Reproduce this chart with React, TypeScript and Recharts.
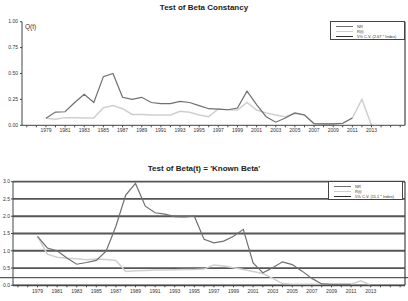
import React from 'react';
import { LineChart, Line, XAxis, YAxis, CartesianGrid, ReferenceLine } from 'recharts';

const years = [
  1979, 1980, 1981, 1982, 1983, 1984, 1985, 1986, 1987, 1988, 1989, 1990,
  1991, 1992, 1993, 1994, 1995, 1996, 1997, 1998, 1999, 2000, 2001, 2002,
  2003, 2004, 2005, 2006, 2007, 2008, 2009, 2010, 2011, 2012, 2013,
];

// Test of Beta Constancy, Q(t)
const constancyNR = [
  0.067, 0.128, 0.131, 0.22, 0.3, 0.22, 0.47, 0.5, 0.27, 0.25, 0.27, 0.22,
  0.21, 0.21, 0.23, 0.22, 0.19, 0.16, 0.157, 0.15, 0.167, 0.33, 0.2, 0.083,
  0.03, 0.07, 0.12, 0.1, 0.016, 0.013, 0.013, 0.02, 0.07, null, null,
];
const constancyR = [
  0.067, 0.058, 0.074, 0.074, 0.07, 0.07, 0.17, 0.19, 0.16, 0.105, 0.105, 0.1,
  0.1, 0.1, 0.135, 0.125, 0.1, 0.083, 0.157, 0.15, 0.147, 0.22, 0.147, 0.12,
  0.1, 0.083, 0.115, 0.1, 0.016, 0.013, 0.013, 0.02, 0.07, 0.25, 0,
];

// Test of Beta(t) = 'Known Beta'
const knownNR = [
  1.42, 1.08, 1.0, 0.79, 0.61, 0.66, 0.72, 0.99, 1.71, 2.61, 2.95, 2.29,
  2.1, 2.06, 1.99, 1.98, 2.0, 1.33, 1.23, 1.28, 1.42, 1.62, 0.65, 0.36,
  0.51, 0.68, 0.6, 0.41, 0.2, 0.04, 0.03, 0.03, 0.03, null, null,
];
const knownR = [
  1.42, 0.9, 0.81, 0.78, 0.77, 0.74, 0.76, 0.75, 0.72, 0.4, 0.42, 0.43,
  0.44, 0.44, 0.45, 0.46, 0.46, 0.47, 0.59, 0.56, 0.51, 0.46, 0.4, 0.34,
  0.2, 0.05, 0.03, 0.03, 0.03, 0.03, 0.03, 0.03, 0.03, 0.13, 0,
];
const knownCV = [0.22];

const legendTop = ['NR', 'R(t)', '5% C.V. (2.67 * Index)'];
const legendBottom = ['NR', 'R(t)', '5% C.V. (11.1 * Index)'];

const xTicks = [
  1977, 1978, 1979, 1980, 1981, 1982, 1983, 1984, 1985, 1986, 1987, 1988,
  1989, 1990, 1991, 1992, 1993, 1994, 1995, 1996, 1997, 1998, 1999, 2000,
  2001, 2002, 2003, 2004, 2005, 2006, 2007, 2008, 2009, 2010, 2011, 2012,
  2013, 2014, 2015, 2016,
];
const labelYears = [
  1979, 1981, 1983, 1985, 1987, 1989, 1991, 1993, 1995, 1997, 1999, 2001,
  2003, 2005, 2007, 2009, 2011, 2013,
];
const topTicks = [0, 0.25, 0.5, 0.75, 1];
const bottomTicks = [0, 0.5, 1, 1.5, 2, 2.5, 3];

const topData = years.map((year, i) => ({ year, nr: constancyNR[i], r: constancyR[i] }));
const bottomData = years.map((year, i) => ({ year, nr: knownNR[i], r: knownR[i] }));

const FONT = 'Arial, "Liberation Sans", sans-serif';
const DARK = '#6f6f6f';
const LIGHT = '#cfcfcf';
const DOMAIN: [number, number] = [1976.5, 2016.5];

const fmtYear = (v: number) => (labelYears.includes(v) ? String(v) : '');

const LegendBox = ({ names, left, top }: { names: string[]; left: number; top: number }) => {
  const colors = [DARK, LIGHT, '#333'];
  return (
    <div
      style={{
        position: 'absolute',
        left,
        top,
        width: 75,
        height: 19,
        border: '1.5px solid #444',
        boxSizing: 'border-box',
        background: '#fff',
        fontFamily: FONT,
        fontSize: 4,
        lineHeight: '5px',
        color: '#333',
      }}
    >
      {names.map((n, i) => (
        <div
          key={n}
          style={{ position: 'absolute', left: 5, top: 1.5 + i * 5, height: 5, display: 'flex', alignItems: 'center' }}
        >
          <div style={{ width: 17, height: 1, background: colors[i], marginRight: 4 }} />
          <span style={{ whiteSpace: 'nowrap' }}>{n}</span>
        </div>
      ))}
    </div>
  );
};

const titleStyle: React.CSSProperties = {
  position: 'absolute',
  left: 0,
  width: 408,
  textAlign: 'center',
  fontFamily: FONT,
  fontWeight: 'bold',
  fontSize: 8,
  color: '#222',
};

export default function App() {
  return (
    <div style={{ position: 'absolute', left: 0, top: 0, width: 408, height: 301, background: '#fff', overflow: 'hidden' }}>
      <div style={{ ...titleStyle, top: 3 }}>Test of Beta Constancy</div>
      <div style={{ position: 'absolute', left: 0, top: 0 }}>
        <LineChart width={408} height={140} data={topData} margin={{ top: 21.7, right: 3, bottom: 0, left: 0 }}>
          <XAxis
            dataKey="year"
            type="number"
            domain={DOMAIN}
            ticks={xTicks}
            tickFormatter={fmtYear}
            interval={0}
            height={14.7}
            tickSize={2}
            tickMargin={1}
            stroke="#444"
            tick={{ fontSize: 5, fill: '#333', fontFamily: FONT }}
          />
          <YAxis
            domain={[0, 1]}
            ticks={topTicks}
            interval={0}
            tickFormatter={(v: number) => v.toFixed(2)}
            width={22}
            tickSize={2}
            tickMargin={2}
            stroke="#444"
            tick={{ fontSize: 5, fill: '#333', fontFamily: FONT }}
          />
          <ReferenceLine x={DOMAIN[1]} stroke="#444" strokeWidth={1.2} />
          <Line dataKey="r" stroke={LIGHT} strokeWidth={1.5} dot={false} isAnimationActive={false} />
          <Line dataKey="nr" stroke={DARK} strokeWidth={1.2} dot={false} isAnimationActive={false} />
        </LineChart>
      </div>
      <div style={{ position: 'absolute', left: 25, top: 23, fontFamily: FONT, fontSize: 6.5, color: '#333' }}>Q(t)</div>
      <LegendBox names={legendTop} left={330} top={21} />

      <div style={{ ...titleStyle, top: 164 }}>Test of Beta(t) = 'Known Beta'</div>
      <div style={{ position: 'absolute', left: 0, top: 140 }}>
        <LineChart width={408} height={161} data={bottomData} margin={{ top: 41.7, right: 3, bottom: 0, left: 0 }}>
          <CartesianGrid vertical={false} stroke="#555" strokeWidth={1.8} />
          <XAxis
            dataKey="year"
            type="number"
            domain={DOMAIN}
            ticks={xTicks}
            tickFormatter={fmtYear}
            interval={0}
            height={15.7}
            tickSize={2}
            tickMargin={2}
            stroke="#444"
            tick={{ fontSize: 5, fill: '#333', fontFamily: FONT }}
          />
          <YAxis
            domain={[0, 3]}
            ticks={bottomTicks}
            interval={0}
            tickFormatter={(v: number) => v.toFixed(1)}
            width={13}
            tickSize={2}
            tickMargin={1}
            stroke="#444"
            tick={{ fontSize: 5, fill: '#333', fontFamily: FONT }}
          />
          <ReferenceLine x={DOMAIN[1]} stroke="#444" strokeWidth={1.2} />
          <ReferenceLine
            y={knownCV[0]}
            ifOverflow="visible"
            shape={(p: any) => <line x1={0} x2={408} y1={p.y1} y2={p.y2} stroke="#333" strokeWidth={1} />}
          />
          <Line dataKey="r" stroke={LIGHT} strokeWidth={1.5} dot={false} isAnimationActive={false} />
          <Line dataKey="nr" stroke={DARK} strokeWidth={1.2} dot={false} isAnimationActive={false} />
        </LineChart>
      </div>
      <LegendBox names={legendBottom} left={328} top={181} />
    </div>
  );
}
